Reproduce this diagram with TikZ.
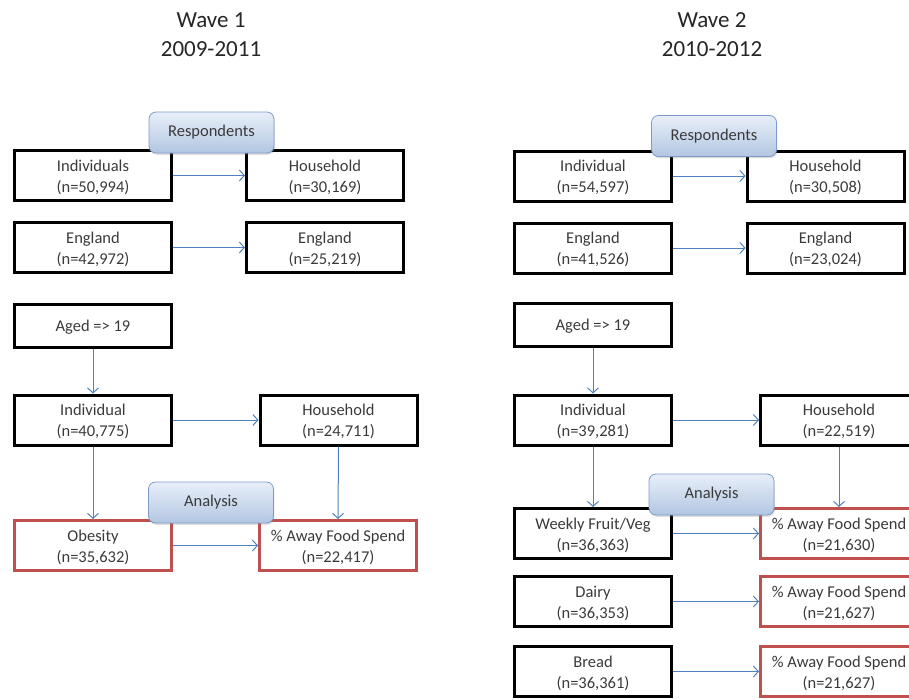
\documentclass[tikz,border=0pt]{standalone}
\usepackage{fontspec}
\setmainfont{Carlito}
\usetikzlibrary{arrows.meta,shadows}
\definecolor{ink}{HTML}{3A3A3A}
\definecolor{redframe}{HTML}{C0504D}
\definecolor{flow}{HTML}{4F81BD}
\definecolor{tagtop}{HTML}{E8EFF9}
\definecolor{tagbot}{HTML}{B2C6E2}
\definecolor{tagline}{HTML}{7E9BC8}
\begin{document}
\begin{tikzpicture}[x=1pt,y=-1pt,
  every node/.style={text=ink, font=\fontsize{16.5}{21}\selectfont, align=center, inner sep=0pt},
  stage/.style={draw=black, line width=3pt, minimum width=157pt, minimum height=50pt,
    text height=33pt, text depth=0pt},
  single/.style={minimum height=43pt, text height=11pt, text depth=0pt},
  result/.style={stage, draw=redframe},
  tag/.style={draw=tagline, line width=0.8pt, rounded corners=7pt,
    top color=tagtop, bottom color=tagbot, minimum width=125pt, minimum height=41pt,
    drop shadow={opacity=0.25, shadow xshift=0.8pt, shadow yshift=-1.8pt}},
  flowarrow/.style={draw=flow, line width=1pt, -{Straight Barb[length=5pt,width=11pt]}},
  heading/.style={font=\fontsize{23}{29}\selectfont, text=black!85}
]
\useasboundingbox (0,0) rectangle (909,699);
\clip (0,0) rectangle (909,699);

% ---------- Wave 1 ----------
\node[heading] (w1title) at (211,35) {Wave 1\\2009-2011};

\node[stage] (w1ind)   at (93,175.5)  {Individuals\\(n=50,994)};
\node[stage] (w1hh)    at (325,175.5) {Household\\(n=30,169)};
\node[stage] (w1eng)   at (93,247.5)  {England\\(n=42,972)};
\node[stage] (w1enghh) at (325,247.5) {England\\(n=25,219)};
\node[stage, single] (w1aged) at (93,326) {Aged => 19};
\node[stage] (w1indiv) at (93,420)    {Individual\\(n=40,775)};
\node[stage] (w1hh2)   at (338.5,420) {Household\\(n=24,711)};
\node[result] (w1ob)   at (93,545.5)  {Obesity\\(n=35,632)};
\node[result] (w1away) at (338,545.5) {\% Away Food Spend\\(n=22,417)};

\draw[flowarrow] (w1ind) -- (w1hh);
\draw[flowarrow] (w1eng) -- (w1enghh);
\draw[flowarrow] (w1aged) -- (w1indiv);
\draw[flowarrow] (w1indiv) -- (w1hh2);
\draw[flowarrow] (w1indiv) -- (w1ob);
\draw[flowarrow] (w1hh2.south) -- (w1away.north);
\draw[flowarrow] (w1ob) -- (w1away);

\node[tag] (w1resp) at (211.5,132.5) {Respondents};
\node[tag] (w1anal) at (211,502.5)   {Analysis};

% ---------- Wave 2 ----------
\node[heading] (w2title) at (712,35) {Wave 2\\2010-2012};

\node[stage] (w2ind)   at (593,176)   {Individual\\(n=54,597)};
\node[stage] (w2hh)    at (825.5,176) {Household\\(n=30,508)};
\node[stage] (w2eng)   at (593,248)   {England\\(n=41,526)};
\node[stage] (w2enghh) at (825.5,248) {England\\(n=23,024)};
\node[stage, single] (w2aged) at (593,325) {Aged => 19};
\node[stage] (w2indiv) at (593,420)   {Individual\\(n=39,281)};
\node[stage] (w2hh2)   at (839,420)   {Household\\(n=22,519)};
\node[stage] (w2fv)    at (593,533.5) {Weekly Fruit/Veg\\(n=36,363)};
\node[result] (w2away1) at (839,533.5) {\% Away Food Spend\\(n=21,630)};
\node[stage] (w2dairy) at (593,601.5) {Dairy\\(n=36,353)};
\node[result] (w2away2) at (839,601.5) {\% Away Food Spend\\(n=21,627)};
\node[stage] (w2bread) at (593,671.5) {Bread\\(n=36,361)};
\node[result] (w2away3) at (839,671.5) {\% Away Food Spend\\(n=21,627)};

\draw[flowarrow] (w2ind) -- (w2hh);
\draw[flowarrow] (w2eng) -- (w2enghh);
\draw[flowarrow] (w2aged) -- (w2indiv);
\draw[flowarrow] (w2indiv) -- (w2hh2);
\draw[flowarrow] (w2indiv) -- (w2fv);
\draw[flowarrow] (w2hh2) -- (w2away1);
\draw[flowarrow] (w2fv) -- (w2away1);
\draw[flowarrow] (w2dairy) -- (w2away2);
\draw[flowarrow] (w2bread) -- (w2away3);

\node[tag] (w2resp) at (714,136)    {Respondents};
\node[tag] (w2anal) at (711.5,494.5) {Analysis};
\end{tikzpicture}
\end{document}
